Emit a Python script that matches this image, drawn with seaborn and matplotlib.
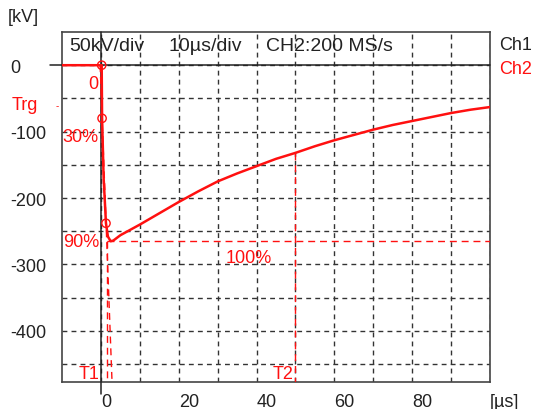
import numpy as np
import pandas as pd
import seaborn as sns
import matplotlib.pyplot as plt

# --- waveform (Ch2) ---
time_us = [-10, 0.2, 0.3, 0.7, 1.3, 1.8, 2.5, 3.2, 5, 10, 15, 20, 25, 30, 35, 40, 45, 50,
           55, 60, 65, 70, 75, 80, 85, 90, 95, 100]
volt_kv = [0, 0, -80, -170, -238, -258, -265, -264, -256, -240, -223, -206, -190, -175, -163,
           -152, -141, -132, -122, -113, -105, -97, -90, -84, -78, -72, -67, -63]

# evaluation points (0 / 30 % / 90 %)
mark_t = [0.2, 0.3, 1.3]
mark_v = [0, -80, -238]
mark_labels = ["0", "30%", "90%"]

peak_kv = -265
t1_us = 1.5
t2_us = 50
t2_kv = -132

x_major = [0, 20, 40, 60, 80, 100]
x_labels = ["0", "20", "40", "60", "80", "[µs]"]
y_major = [0, -100, -200, -300, -400]

sns.set_style("white")
plt.rcParams["font.family"] = ["Liberation Sans", "DejaVu Sans"]
plt.rcParams["axes.unicode_minus"] = False

RED = "#ff1010"
DARK = "#222222"

df = pd.DataFrame({"t": time_us, "v": volt_kv})

fig = plt.figure(figsize=(5.37, 4.10), dpi=100)
ax = fig.add_axes([62 / 537, 1 - 383 / 410, 428 / 537, 350 / 410])

ax.set_xlim(-10, 100)
ax.set_ylim(-477, 50)

# grid
ax.set_xticks(x_major)
ax.set_xticks(np.arange(10, 100, 20), minor=True)
ax.set_xticklabels(x_labels)
ax.set_yticks(y_major)
ax.set_yticks(np.arange(-50, -500, -100), minor=True)
ax.grid(which="both", color="#333333", linestyle=(0, (3.5, 3)), linewidth=1.0)
ax.tick_params(which="both", direction="out", length=8, width=1.0, color="#333333",
               labelsize=13, labelcolor=DARK)
ax.tick_params(axis="x", pad=0)
ax.tick_params(axis="y", pad=29)
for lab in ax.get_xticklabels():
    lab.set_horizontalalignment("left")
for lab in ax.get_yticklabels():
    lab.set_horizontalalignment("left")

for sp in ax.spines.values():
    sp.set_color("#444444")
    sp.set_linewidth(1.2)

# header separator and time-zero line
ax.axhline(0, xmin=-0.028, xmax=1, color=DARK, lw=1.1, clip_on=False, zorder=3)
ax.axvline(0, ymin=-0.034, ymax=1, color=DARK, lw=1.1, clip_on=False, zorder=3)

# evaluation helper lines
dash = (0, (5, 3.5))
front_t = [-0.2, 1.5, 2.86]
front_v = [0, peak_kv, -477]
ax.plot(front_t, front_v, color=RED, lw=1.0, ls=dash, zorder=4)
ax.plot([t1_us, t1_us], [peak_kv, -477], color=RED, lw=1.0, ls=dash, zorder=4)
ax.plot([t1_us, 100], [peak_kv, peak_kv], color=RED, lw=1.0, ls=dash, zorder=4)
ax.plot([t2_us, t2_us], [t2_kv, -477], color=RED, lw=1.0, ls=dash, zorder=4)

# the impulse
sns.lineplot(data=df, x="t", y="v", sort=False, estimator=None, color=RED,
             linewidth=1.8, ax=ax, zorder=5)
ax.scatter(mark_t, mark_v, s=36, facecolors="none", edgecolors=RED, linewidths=1.0, zorder=6)

ax.set_xlabel("")
ax.set_ylabel("")

# red annotations
ax.text(-0.7, -28, mark_labels[0], color=RED, fontsize=13, ha="right", va="center")
ax.text(-0.6, -107, mark_labels[1], color=RED, fontsize=13, ha="right", va="center")
ax.text(-0.3, -265, mark_labels[2], color=RED, fontsize=13, ha="right", va="center")
ax.text(38, -289, "100%", color=RED, fontsize=13, ha="center", va="center")
ax.text(-0.4, -464, "T1", color=RED, fontsize=13, ha="right", va="center")
ax.text(49.5, -464, "T2", color=RED, fontsize=13, ha="right", va="center")

# header
ax.text(-8.2, 29, "50kV/div", fontsize=14, color=DARK, ha="left", va="center")
ax.text(17.5, 29, "10µs/div", fontsize=14, color=DARK, ha="left", va="center")
ax.text(42.5, 29, "CH2:200 MS/s", fontsize=14, color=DARK, ha="left", va="center")

# outer labels
fig.text(8 / 537, 1 - 18 / 410, "[kV]", fontsize=13, color=DARK, ha="left", va="center")
fig.text(499 / 537, 1 - 46 / 410, "Ch1", fontsize=13, color=DARK, ha="left", va="center")
fig.text(499 / 537, 1 - 69 / 410, "Ch2", fontsize=13, color=RED, ha="left", va="center")
fig.text(12 / 537, 1 - 105 / 410, "Trg", fontsize=13, color=RED, ha="left", va="center")
fig.text(56 / 537, 1 - 106 / 410, "-", fontsize=7, color=RED, ha="left", va="center")

fig.savefig("out.png", dpi=100)
